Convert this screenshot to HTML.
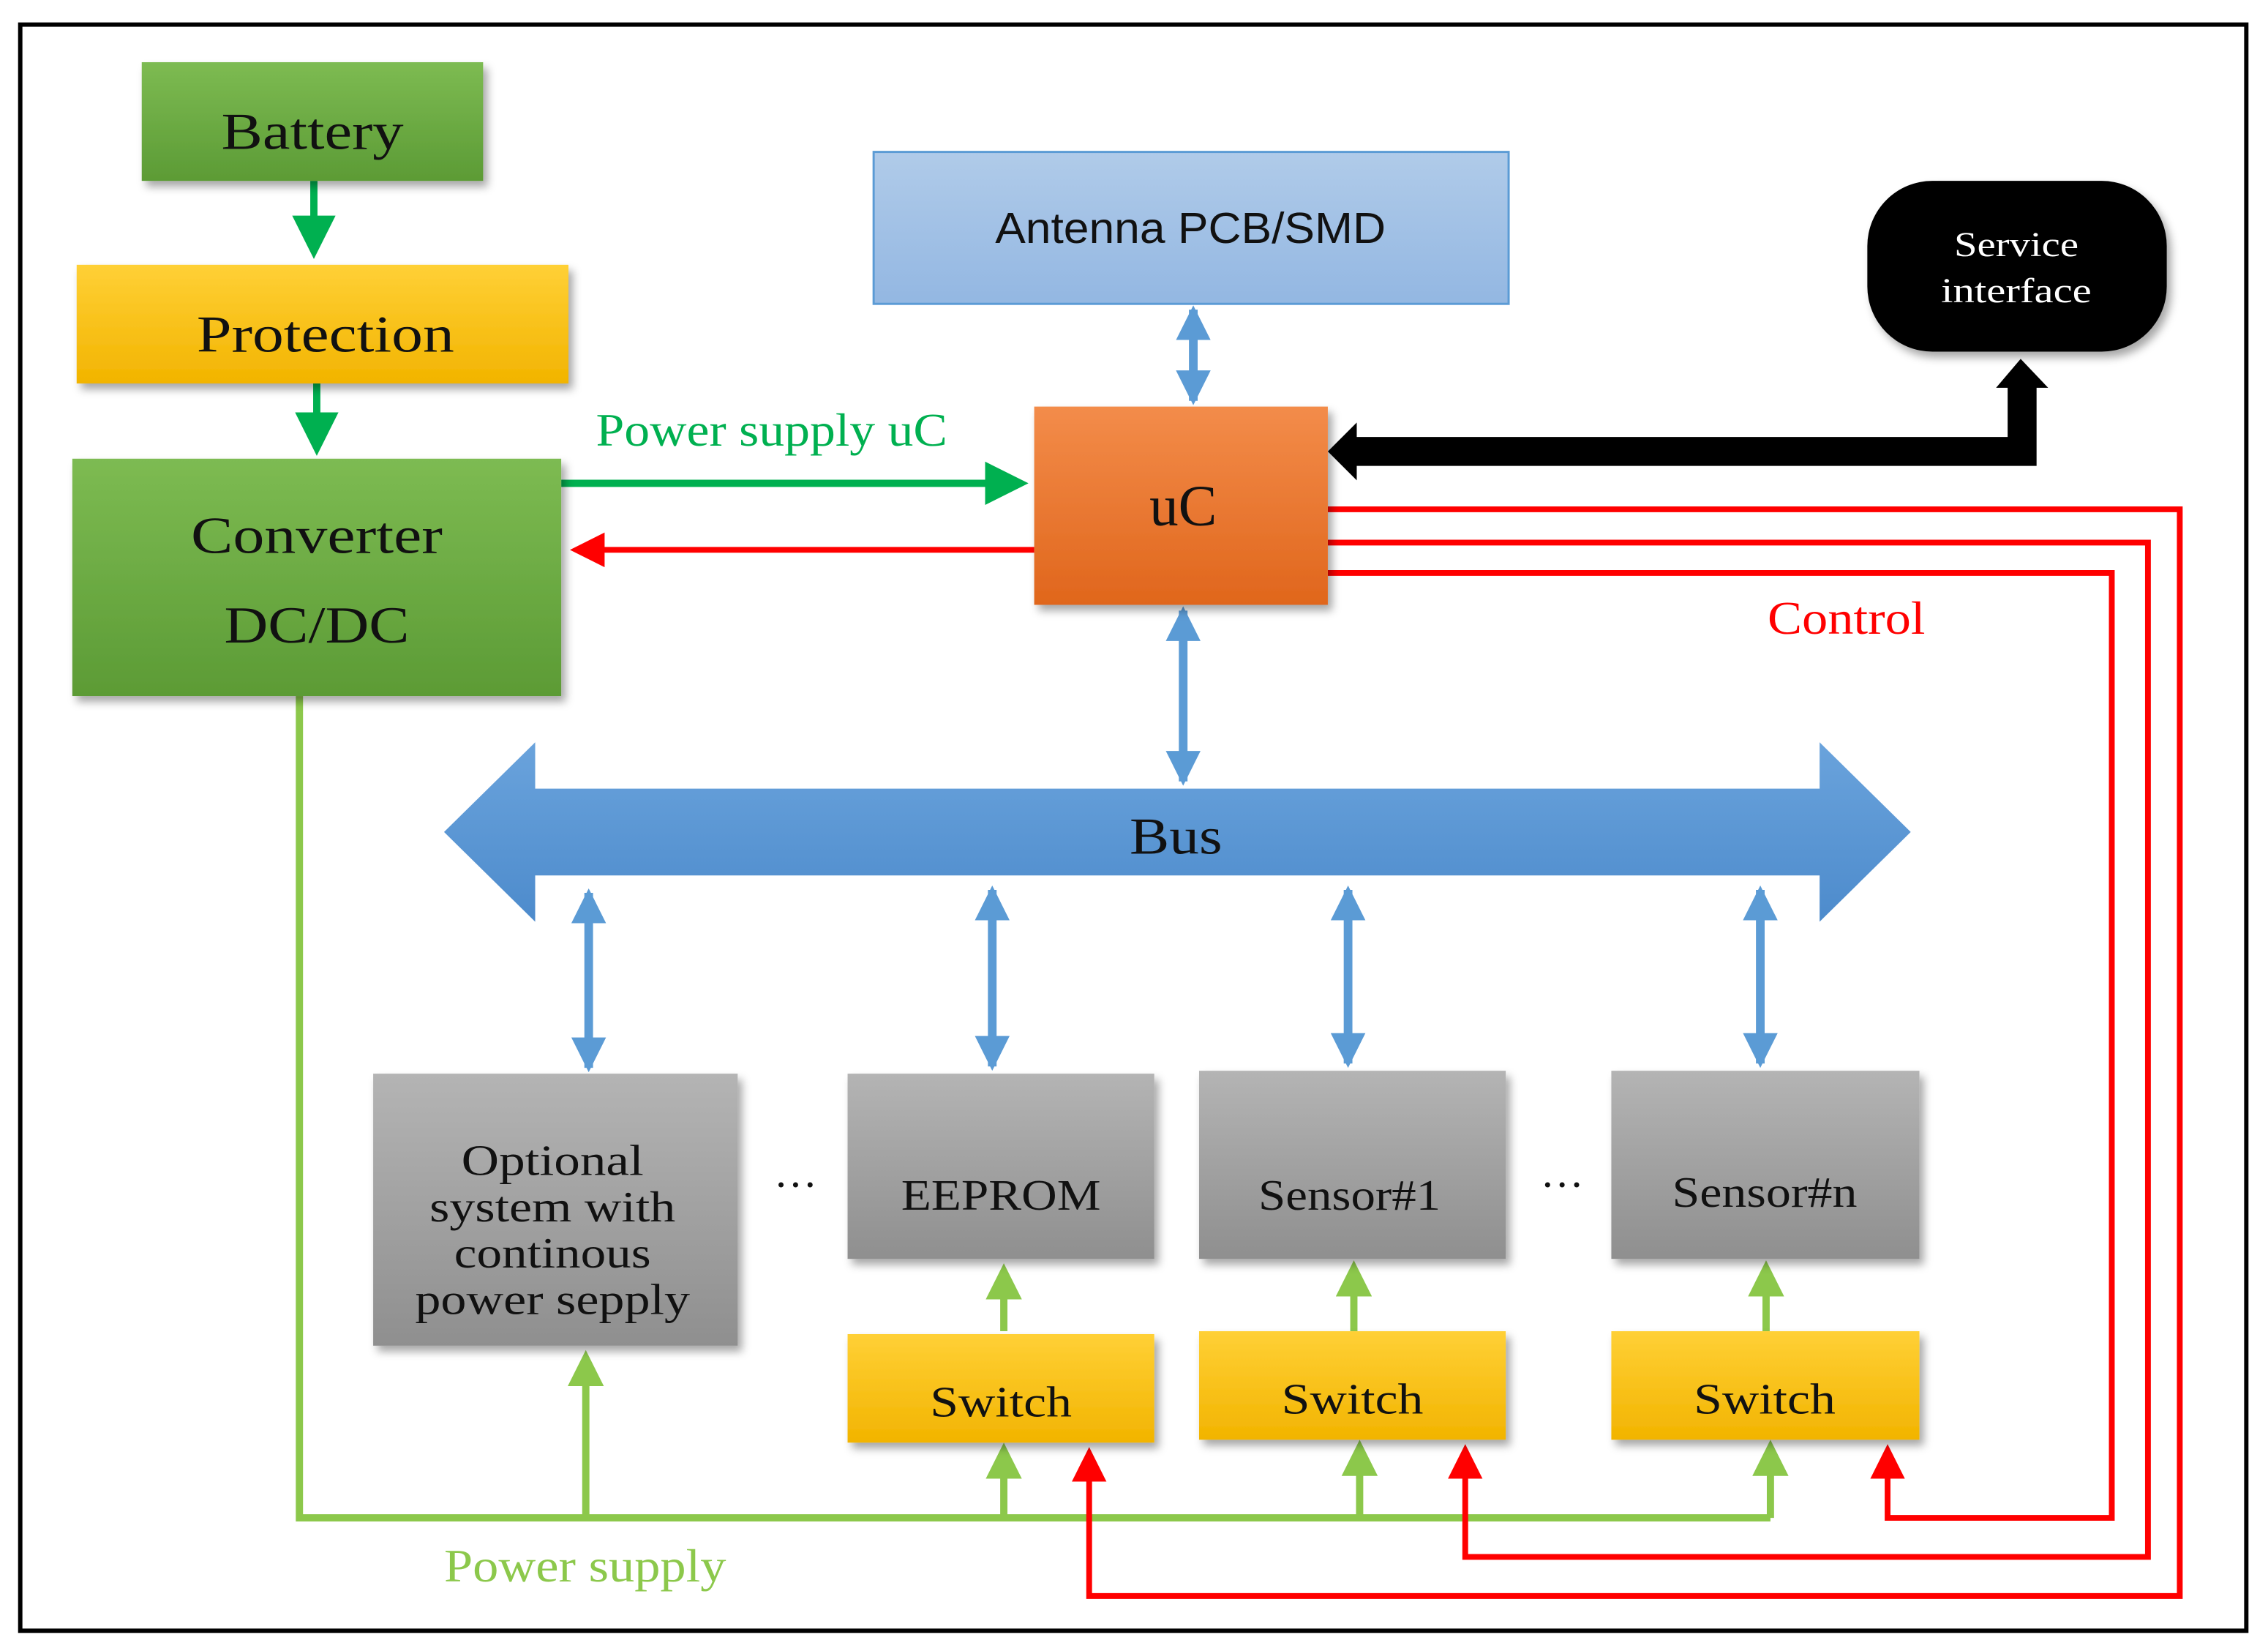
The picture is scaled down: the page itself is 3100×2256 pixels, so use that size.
<!DOCTYPE html>
<html><head><meta charset="utf-8"><style>
html,body{margin:0;padding:0;background:#fff;}
svg{display:block;}
.s{font-family:"Liberation Serif",serif;}
.a{font-family:"Liberation Sans",sans-serif;}
</style></head><body>
<svg width="3100" height="2256" viewBox="0 0 1568 1141" preserveAspectRatio="none" xmlns="http://www.w3.org/2000/svg">
<defs>
<linearGradient id="gG" x1="0" y1="0" x2="0" y2="1"><stop offset="0" stop-color="#7dbb52"/><stop offset="1" stop-color="#5c9b35"/></linearGradient>
<linearGradient id="gY" x1="0" y1="0" x2="0" y2="1"><stop offset="0" stop-color="#ffd036"/><stop offset="1" stop-color="#f2b400"/></linearGradient>
<linearGradient id="gO" x1="0" y1="0" x2="0" y2="1"><stop offset="0" stop-color="#f38c4a"/><stop offset="1" stop-color="#e0661c"/></linearGradient>
<linearGradient id="gB" x1="0" y1="0" x2="0" y2="1"><stop offset="0" stop-color="#b0cbe9"/><stop offset="1" stop-color="#93b7e2"/></linearGradient>
<linearGradient id="gR" x1="0" y1="0" x2="0" y2="1"><stop offset="0" stop-color="#b4b4b4"/><stop offset="1" stop-color="#8f8f8f"/></linearGradient>
<linearGradient id="gBus" x1="0" y1="0" x2="0" y2="1"><stop offset="0" stop-color="#6aa3dc"/><stop offset="1" stop-color="#4d8bcc"/></linearGradient>
<filter id="sh" x="-10%" y="-10%" width="130%" height="130%"><feDropShadow dx="3" dy="4" stdDeviation="3" flood-color="#000" flood-opacity="0.35"/></filter>
<marker id="mg" markerWidth="6" markerHeight="6" refX="5" refY="3" orient="auto" markerUnits="strokeWidth"><path d="M0,0 L6,3 L0,6 Z" fill="#00b050"/></marker>
<marker id="mr" markerWidth="6" markerHeight="6" refX="5" refY="3" orient="auto" markerUnits="strokeWidth"><path d="M0,0 L6,3 L0,6 Z" fill="#ff0000"/></marker>
<marker id="ml" markerWidth="5" markerHeight="5" refX="4" refY="2.5" orient="auto" markerUnits="strokeWidth"><path d="M0,0 L5,2.5 L0,5 Z" fill="#8cc84b"/></marker>
<marker id="mb" markerWidth="4" markerHeight="4" refX="3.5" refY="2" orient="auto-start-reverse" markerUnits="strokeWidth"><path d="M0,0 L4,2 L0,4 Z" fill="#5b9bd5"/></marker>
</defs>
<rect x="14" y="17" width="1539" height="1110" fill="#fff" stroke="#000" stroke-width="3"/>

<g stroke="#8cc84b" stroke-width="5" fill="none">
<polyline points="207,481 207,1049 1224,1049"/>
<line x1="405" y1="1049" x2="405" y2="938" marker-end="url(#ml)"/>
<line x1="694" y1="1049" x2="694" y2="1002" marker-end="url(#ml)"/>
<line x1="940" y1="1049" x2="940" y2="1000" marker-end="url(#ml)"/>
<line x1="1224" y1="1049" x2="1224" y2="1000" marker-end="url(#ml)"/>
<line x1="694" y1="920" x2="694" y2="878" marker-end="url(#ml)"/>
<line x1="936" y1="920" x2="936" y2="876" marker-end="url(#ml)"/>
<line x1="1221" y1="920" x2="1221" y2="876" marker-end="url(#ml)"/>
</g>

<g stroke="#ff0000" stroke-width="4" fill="none">
<polyline points="918,352 1507,352 1507,1103 753,1103 753,1004" marker-end="url(#mr)"/>
<polyline points="918,375 1485,375 1485,1076 1013,1076 1013,1002" marker-end="url(#mr)"/>
<polyline points="918,396 1460,396 1460,1049 1305,1049 1305,1002" marker-end="url(#mr)"/>
<line x1="715" y1="380" x2="398" y2="380" marker-end="url(#mr)"/>
</g>

<g stroke="#00b050" stroke-width="5" fill="none">
<line x1="217" y1="125" x2="217" y2="174" marker-end="url(#mg)"/>
<line x1="219" y1="265" x2="219" y2="310" marker-end="url(#mg)"/>
<line x1="388" y1="334" x2="706" y2="334" marker-end="url(#mg)"/>
</g>

<g stroke="#5b9bd5" stroke-width="6" fill="none">
<line x1="825" y1="214" x2="825" y2="277" marker-start="url(#mb)" marker-end="url(#mb)"/>
<line x1="818" y1="422" x2="818" y2="540" marker-start="url(#mb)" marker-end="url(#mb)"/>
<line x1="407" y1="617" x2="407" y2="738" marker-start="url(#mb)" marker-end="url(#mb)"/>
<line x1="686" y1="615" x2="686" y2="737" marker-start="url(#mb)" marker-end="url(#mb)"/>
<line x1="932" y1="615" x2="932" y2="735" marker-start="url(#mb)" marker-end="url(#mb)"/>
<line x1="1217" y1="615" x2="1217" y2="735" marker-start="url(#mb)" marker-end="url(#mb)"/>
</g>

<path d="M938,302 L1388,302 L1388,268 L1380,268 L1397,248 L1416,268 L1408,268 L1408,322 L938,322 L938,332 L918,312 L938,292 Z" fill="#000"/>

<path d="M307,575 L370,513 L370,545 L1258,545 L1258,513 L1321,575 L1258,637 L1258,605 L370,605 L370,637 Z" fill="url(#gBus)"/>
<text x="813" y="590" class="s" font-size="36" text-anchor="middle" fill="#111" textLength="64" lengthAdjust="spacingAndGlyphs">Bus</text>

<g filter="url(#sh)">
<rect x="98" y="43" width="236" height="82" fill="url(#gG)"/>
<rect x="53" y="183" width="340" height="82" fill="url(#gY)"/>
<rect x="50" y="317" width="338" height="164" fill="url(#gG)"/>
<rect x="715" y="281" width="203" height="137" fill="url(#gO)"/>
<rect x="1291" y="125" width="207" height="118" rx="45" fill="#000"/>
<rect x="258" y="742" width="252" height="188" fill="url(#gR)"/>
<rect x="586" y="742" width="212" height="128" fill="url(#gR)"/>
<rect x="829" y="740" width="212" height="130" fill="url(#gR)"/>
<rect x="1114" y="740" width="213" height="130" fill="url(#gR)"/>
<rect x="586" y="922" width="212" height="75" fill="url(#gY)"/>
<rect x="829" y="920" width="212" height="75" fill="url(#gY)"/>
<rect x="1114" y="920" width="213" height="75" fill="url(#gY)"/>
</g>
<rect x="604" y="105" width="439" height="105" fill="url(#gB)" stroke="#5b9bd5" stroke-width="1.5"/>

<g class="s" fill="#111" text-anchor="middle" lengthAdjust="spacingAndGlyphs">
<text x="216" y="103" font-size="36" textLength="126" lengthAdjust="spacingAndGlyphs">Battery</text>
<text x="225" y="243" font-size="36" textLength="178" lengthAdjust="spacingAndGlyphs">Protection</text>
<text x="219" y="382" font-size="36" textLength="174" lengthAdjust="spacingAndGlyphs">Converter</text>
<text x="219" y="444" font-size="36" textLength="128" lengthAdjust="spacingAndGlyphs">DC/DC</text>
<text x="818" y="363" font-size="40">uC</text>
<text x="382" y="812" font-size="30" textLength="126" lengthAdjust="spacingAndGlyphs">Optional</text>
<text x="382" y="844" font-size="30" textLength="170" lengthAdjust="spacingAndGlyphs">system with</text>
<text x="382" y="876" font-size="30" textLength="136" lengthAdjust="spacingAndGlyphs">continous</text>
<text x="382" y="908" font-size="30" textLength="190" lengthAdjust="spacingAndGlyphs">power sepply</text>
<text x="692" y="836" font-size="30" textLength="138" lengthAdjust="spacingAndGlyphs">EEPROM</text>
<text x="933" y="836" font-size="30" textLength="126" lengthAdjust="spacingAndGlyphs">Sensor#1</text>
<text x="1220" y="834" font-size="30" textLength="128" lengthAdjust="spacingAndGlyphs">Sensor#n</text>
<text x="692" y="979" font-size="30" textLength="98" lengthAdjust="spacingAndGlyphs">Switch</text>
<text x="935" y="977" font-size="30" textLength="98" lengthAdjust="spacingAndGlyphs">Switch</text>
<text x="1220" y="977" font-size="30" textLength="98" lengthAdjust="spacingAndGlyphs">Switch</text>
<text x="550" y="820" font-size="30">…</text>
<text x="1080" y="820" font-size="30">…</text>
<text x="1394" y="177" font-size="24" fill="#fff" textLength="86" lengthAdjust="spacingAndGlyphs">Service</text>
<text x="1394" y="209" font-size="24" fill="#fff" textLength="104" lengthAdjust="spacingAndGlyphs">interface</text>
</g>
<text x="823" y="168" class="a" font-size="30" text-anchor="middle" fill="#111" textLength="270" lengthAdjust="spacingAndGlyphs">Antenna PCB/SMD</text>
<text x="412" y="308" class="s" font-size="32" fill="#00b050" textLength="243" lengthAdjust="spacingAndGlyphs">Power supply uC</text>
<text x="1222" y="438" class="s" font-size="32" fill="#ff0000" textLength="109" lengthAdjust="spacingAndGlyphs">Control</text>
<text x="307" y="1093" class="s" font-size="32" fill="#8cc84b" textLength="195" lengthAdjust="spacingAndGlyphs">Power supply</text>
</svg>
</body></html>
